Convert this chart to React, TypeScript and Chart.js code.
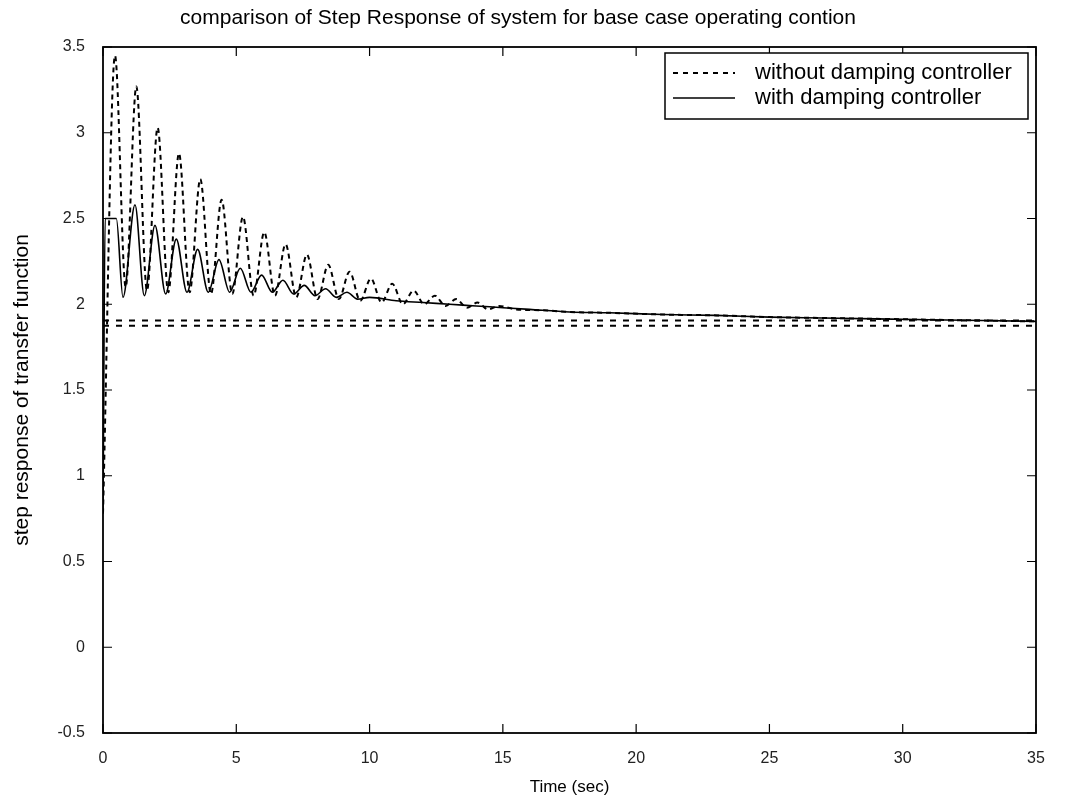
import React, { useEffect, useRef } from "react";
import { Chart, registerables } from "chart.js";

Chart.register(...registerables);

const titleText = "comparison of Step Response of system for base case operating contion";
const xAxisTitle = "Time (sec)";
const yAxisTitle = "step response of transfer function";
const legendLabels = ["without damping controller", "with damping controller"];

const xTicks = [0, 5, 10, 15, 20, 25, 30, 35];
const xTickLabels = ["0", "5", "10", "15", "20", "25", "30", "35"];
const yTicks = [-0.5, 0, 0.5, 1, 1.5, 2, 2.5, 3, 3.5];
const yTickLabels = ["-0.5", "0", "0.5", "1", "1.5", "2", "2.5", "3", "3.5"];

// without damping controller (dashed)
const timeWithout = [
  0, 0.45, 0.85, 1.25, 1.65, 2.05, 2.45, 2.85, 3.25, 3.65, 4.05, 4.45, 4.85, 5.25, 5.65,
  6.05, 6.45, 6.85, 7.25, 7.65, 8.05, 8.45, 8.85, 9.25, 9.65, 10.05, 10.45, 10.85, 11.25,
  11.65, 12.05, 12.45, 12.85, 13.25, 13.65, 14.05, 14.45, 14.85, 15.5, 16.5, 17.5, 19, 21,
  23, 25, 27, 29, 31, 33, 35,
];
const valuesWithout = [
  0.78, 3.45, 2.1, 3.27, 2.08, 3.03, 2.07, 2.88, 2.07, 2.73, 2.06, 2.61, 2.06, 2.51, 2.05,
  2.42, 2.05, 2.35, 2.04, 2.29, 2.03, 2.23, 2.03, 2.19, 2.02, 2.15, 2.01, 2.12, 2.0,
  2.08, 2.0, 2.05, 1.99, 2.03, 1.98, 2.01, 1.97, 1.99, 1.97, 1.965, 1.955, 1.95, 1.94,
  1.935, 1.925, 1.92, 1.915, 1.91, 1.905, 1.9,
];

// with damping controller (solid)
const timeWith = [
  0, 0.08, 0.5, 0.75, 1.2, 1.55, 1.95, 2.35, 2.75, 3.15, 3.55, 3.95, 4.35, 4.75, 5.15,
  5.55, 5.95, 6.35, 6.75, 7.15, 7.55, 7.95, 8.35, 8.75, 9.15, 9.55, 10, 11, 12, 13, 14,
  15, 16, 17.5, 19, 21, 23, 25, 27, 29, 31, 33, 35,
];
const valuesWith = [
  0.78, 2.5, 2.5, 2.04, 2.58, 2.05, 2.46, 2.06, 2.38, 2.07, 2.32, 2.07, 2.26, 2.07, 2.21,
  2.07, 2.17, 2.07, 2.14, 2.06, 2.11, 2.05, 2.09, 2.04, 2.07, 2.03, 2.04, 2.02, 2.01, 2.0, 1.99,
  1.98, 1.97, 1.955, 1.95, 1.94, 1.935, 1.925, 1.92, 1.915, 1.91, 1.905, 1.9,
];

// horizontal dashed reference levels
const refLevels = [1.905, 1.875];

const FONT = "'Liberation Sans', Arial, sans-serif";

const framePlugin = {
  id: "matlabFrame",
  afterDatasetsDraw(chart: any) {
    const { ctx, chartArea } = chart;
    const { left, right, top, bottom } = chartArea;
    const xs = chart.scales.x;
    const ys = chart.scales.y;
    const tl = 9;
    ctx.save();
    ctx.strokeStyle = "#000";
    ctx.lineWidth = 1.8;
    ctx.setLineDash([]);
    ctx.strokeRect(left, top, right - left, bottom - top);
    ctx.lineWidth = 1.2;
    ctx.beginPath();
    xTicks.forEach((v) => {
      const px = xs.getPixelForValue(v);
      ctx.moveTo(px, bottom);
      ctx.lineTo(px, bottom - tl);
      ctx.moveTo(px, top);
      ctx.lineTo(px, top + tl);
    });
    yTicks.forEach((v) => {
      const py = ys.getPixelForValue(v);
      ctx.moveTo(left, py);
      ctx.lineTo(left + tl, py);
      ctx.moveTo(right, py);
      ctx.lineTo(right - tl, py);
    });
    ctx.stroke();
    ctx.restore();
  },
  afterDraw(chart: any) {
    const { ctx, chartArea } = chart;
    const w = 363;
    const h = 66;
    const x = chartArea.right - 8 - w;
    const y = chartArea.top + 6;
    ctx.save();
    ctx.fillStyle = "#fff";
    ctx.fillRect(x, y, w, h);
    ctx.strokeStyle = "#000";
    ctx.lineWidth = 1.5;
    ctx.setLineDash([]);
    ctx.strokeRect(x, y, w, h);
    const rows = [y + 20, y + 45];
    ctx.lineWidth = 2;
    ctx.setLineDash([5, 5]);
    ctx.beginPath();
    ctx.moveTo(x + 8, rows[0]);
    ctx.lineTo(x + 70, rows[0]);
    ctx.stroke();
    ctx.setLineDash([]);
    ctx.lineWidth = 1.5;
    ctx.beginPath();
    ctx.moveTo(x + 8, rows[1]);
    ctx.lineTo(x + 70, rows[1]);
    ctx.stroke();
    ctx.fillStyle = "#000";
    ctx.font = `22px ${FONT}`;
    ctx.textBaseline = "middle";
    ctx.textAlign = "left";
    ctx.fillText(legendLabels[0], x + 90, rows[0]);
    ctx.fillText(legendLabels[1], x + 90, rows[1]);
    ctx.restore();
  },
};

export default function App() {
  const canvasRef = useRef<HTMLCanvasElement | null>(null);

  useEffect(() => {
    document.body.style.margin = "0";
    const canvas = canvasRef.current;
    if (!canvas) return;

    const withoutData = timeWithout.map((t, i) => ({ x: t, y: valuesWithout[i] }));
    const withData = timeWith.map((t, i) => ({ x: t, y: valuesWith[i] }));
    const refSets = refLevels.map((lvl) => ({
      label: "ref",
      data: [
        { x: xTicks[0], y: lvl },
        { x: xTicks[xTicks.length - 1], y: lvl },
      ],
      borderColor: "#000",
      borderWidth: 2,
      borderDash: [6, 7],
      pointRadius: 0,
      fill: false,
    }));

    const chart = new Chart(canvas, {
      type: "line",
      data: {
        datasets: [
          ...refSets,
          {
            label: legendLabels[1],
            data: withData,
            borderColor: "#000",
            borderWidth: 1.6,
            pointRadius: 0,
            fill: false,
            cubicInterpolationMode: "monotone",
          },
          {
            label: legendLabels[0],
            data: withoutData,
            borderColor: "#000",
            borderWidth: 2,
            borderDash: [5, 4],
            pointRadius: 0,
            fill: false,
            cubicInterpolationMode: "monotone",
          },
        ],
      },
      options: {
        responsive: false,
        animation: false,
        devicePixelRatio: 1,
        layout: { padding: { left: 0, right: 29, top: 0, bottom: 0 } },
        plugins: {
          legend: { display: false },
          tooltip: { enabled: false },
          title: {
            display: true,
            text: titleText,
            color: "#000",
            font: { family: FONT, size: 21, weight: "normal" },
            padding: { top: 6, bottom: 15.8 },
          },
        },
        scales: {
          x: {
            type: "linear",
            min: xTicks[0],
            max: xTicks[xTicks.length - 1],
            afterBuildTicks: (s: any) => {
              s.ticks = xTicks.map((v) => ({ value: v }));
            },
            afterFit: (s: any) => {
              s.height = 77;
            },
            grid: { display: false },
            border: { display: false },
            ticks: {
              color: "#222",
              font: { family: FONT, size: 16 },
              padding: 8,
              maxRotation: 0,
              callback: (v: any) => {
                const i = xTicks.indexOf(Number(v));
                return i >= 0 ? xTickLabels[i] : "";
              },
            },
            title: {
              display: true,
              text: xAxisTitle,
              color: "#000",
              font: { family: FONT, size: 17 },
              padding: { top: 0, bottom: 12 },
            },
          },
          y: {
            type: "linear",
            min: yTicks[0],
            max: yTicks[yTicks.length - 1],
            afterBuildTicks: (s: any) => {
              s.ticks = yTicks.map((v) => ({ value: v }));
            },
            afterFit: (s: any) => {
              s.width = 103;
            },
            grid: { display: false },
            border: { display: false },
            ticks: {
              color: "#222",
              font: { family: FONT, size: 16 },
              padding: 10,
              callback: (v: any) => {
                const i = yTicks.indexOf(Number(v));
                return i >= 0 ? yTickLabels[i] : "";
              },
            },
            title: {
              display: true,
              text: yAxisTitle,
              color: "#000",
              font: { family: FONT, size: 21 },
              padding: { top: 9.4, bottom: 0 },
            },
          },
        },
      },
      plugins: [framePlugin],
    } as any);

    return () => {
      chart.destroy();
    };
  }, []);

  return (
    <div style={{ width: 1065, height: 810, background: "#fff" }}>
      <canvas ref={canvasRef} width={1065} height={810} style={{ display: "block" }} />
    </div>
  );
}
